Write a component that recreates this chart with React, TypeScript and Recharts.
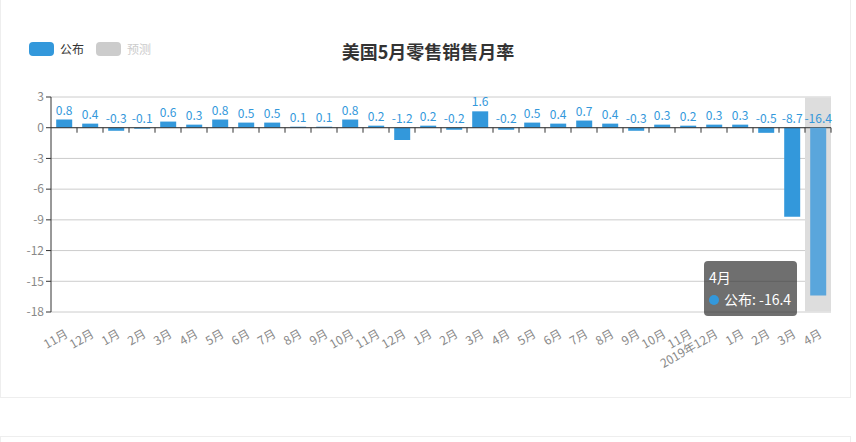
import React from "react";
import {
  BarChart,
  Bar,
  CartesianGrid,
  XAxis,
  YAxis,
  Tooltip,
  LabelList,
  ReferenceLine,
} from "recharts";

const months = [
  "11月", "12月", "1月", "2月", "3月", "4月", "5月", "6月", "7月", "8月",
  "9月", "10月", "11月", "12月", "1月", "2月", "3月", "4月", "5月", "6月",
  "7月", "8月", "9月", "10月", "11月", "2019年12月", "1月", "2月", "3月", "4月",
];

const published = [
  0.8, 0.4, -0.3, -0.1, 0.6, 0.3, 0.8, 0.5, 0.5, 0.1,
  0.1, 0.8, 0.2, -1.2, 0.2, -0.2, 1.6, -0.2, 0.5, 0.4,
  0.7, 0.4, -0.3, 0.3, 0.2, 0.3, 0.3, -0.5, -8.7, -16.4,
];

const yTicks = [3, 0, -3, -6, -9, -12, -15, -18];

// month names repeat, so the category key is the index
const data = months.map((month, i) => ({
  idx: i,
  month,
  value: published[i],
}));

const FONT = '"Noto Sans CJK SC", "Noto Sans", sans-serif';
const BLUE = "#3398DB";

function ValueLabel(props: any) {
  const { x, y, width, height, value } = props;
  const top = Math.min(y, y + height);
  return (
    <text
      x={x + width / 2}
      y={top - 5}
      textAnchor="middle"
      fill={BLUE}
      fontSize={12}
      fontFamily={FONT}
    >
      {value}
    </text>
  );
}

function MonthTick(props: any) {
  const { x, y, payload } = props;
  return (
    <g transform={`translate(${x},${y + 8})`}>
      <text
        x={0}
        y={0}
        dy="0.8em"
        textAnchor="end"
        transform="rotate(-30)"
        fill="#888"
        fontSize={12}
        fontFamily={FONT}
      >
        {months[payload.value]}
      </text>
    </g>
  );
}

// zero line with category boundary ticks
function ZeroAxis(props: any) {
  const { x1, y1, x2 } = props;
  const n = months.length;
  const ticks = [];
  for (let i = 1; i <= n; i++) {
    const tx = x1 + ((x2 - x1) * i) / n;
    ticks.push(
      <line key={i} x1={tx} y1={y1} x2={tx} y2={y1 + 5} stroke="#333" />
    );
  }
  return (
    <g>
      <line x1={x1} y1={y1} x2={x2} y2={y1} stroke="#333" />
      {ticks}
    </g>
  );
}

function TipContent(props: any) {
  const { active, payload } = props;
  if (!active || !payload || !payload.length) return null;
  const row = payload[0].payload;
  return (
    <div
      style={{
        background: "rgba(50,50,50,0.7)",
        borderRadius: 4,
        padding: "5px 6px 6px 5px",
        color: "#fff",
        fontFamily: FONT,
        fontSize: 14,
        lineHeight: "22px",
        whiteSpace: "nowrap",
      }}
    >
      <div>{row.month}</div>
      <div>
        <span
          style={{
            display: "inline-block",
            width: 10,
            height: 10,
            borderRadius: 5,
            background: BLUE,
            marginRight: 5,
          }}
        />
        公布: {row.value}
      </div>
    </div>
  );
}

export default function App() {
  return (
    <div
      style={{
        position: "absolute",
        left: 0,
        top: 0,
        width: 856,
        height: 442,
        overflow: "hidden",
        background: "#fff",
        fontFamily: FONT,
      }}
    >
      <div
        style={{
          position: "absolute",
          left: 0,
          top: -10,
          width: 849,
          height: 406,
          border: "1px solid #eee",
        }}
      />
      <div
        style={{
          position: "absolute",
          left: 0,
          top: 436,
          width: 849,
          height: 40,
          border: "1px solid #eee",
        }}
      />

      <div
        style={{
          position: "absolute",
          left: 0,
          width: 856,
          top: 38,
          textAlign: "center",
          fontSize: 18,
          fontWeight: "bold",
          color: "#333",
        }}
      >
        美国5月零售销售月率
      </div>

      <div
        style={{
          position: "absolute",
          left: 29,
          top: 40,
          display: "flex",
          alignItems: "center",
          fontSize: 12,
        }}
      >
        <span
          style={{
            width: 25,
            height: 14,
            borderRadius: 4,
            background: BLUE,
            marginRight: 6,
          }}
        />
        <span style={{ color: "#333", marginRight: 12 }}>公布</span>
        <span
          style={{
            width: 25,
            height: 14,
            borderRadius: 4,
            background: "#ccc",
            marginRight: 6,
          }}
        />
        <span style={{ color: "#ccc" }}>预测</span>
      </div>

      <div style={{ position: "absolute", left: 0, top: 0 }}>
        <BarChart
          width={856}
          height={400}
          data={data}
          margin={{ top: 97, right: 25, left: 11, bottom: 28 }}
          barCategoryGap="20%"
        >
          <CartesianGrid vertical={false} stroke="#ccc" />
          <XAxis
            dataKey="idx"
            interval={0}
            axisLine={false}
            tickLine={false}
            height={60}
            tick={<MonthTick />}
          />
          <YAxis
            domain={[-18, 3]}
            ticks={yTicks}
            width={40}
            interval={0}
            axisLine={{ stroke: "#333" }}
            tickLine={{ stroke: "#333" }}
            tickSize={5}
            tick={{ fill: "#888", fontSize: 12, fontFamily: FONT }}
          />
          <ReferenceLine y={0} shape={<ZeroAxis />} />
          <Tooltip
            defaultIndex={29}
            cursor={{ fill: "#ddd" }}
            position={{ x: 704, y: 261 }}
            content={<TipContent />}
            isAnimationActive={false}
          />
          <Bar
            dataKey="value"
            name="公布"
            fill={BLUE}
            activeBar={{ fill: "#5aa6dc" }}
            isAnimationActive={false}
          >
            <LabelList dataKey="value" content={<ValueLabel />} />
          </Bar>
        </BarChart>
      </div>
    </div>
  );
}
